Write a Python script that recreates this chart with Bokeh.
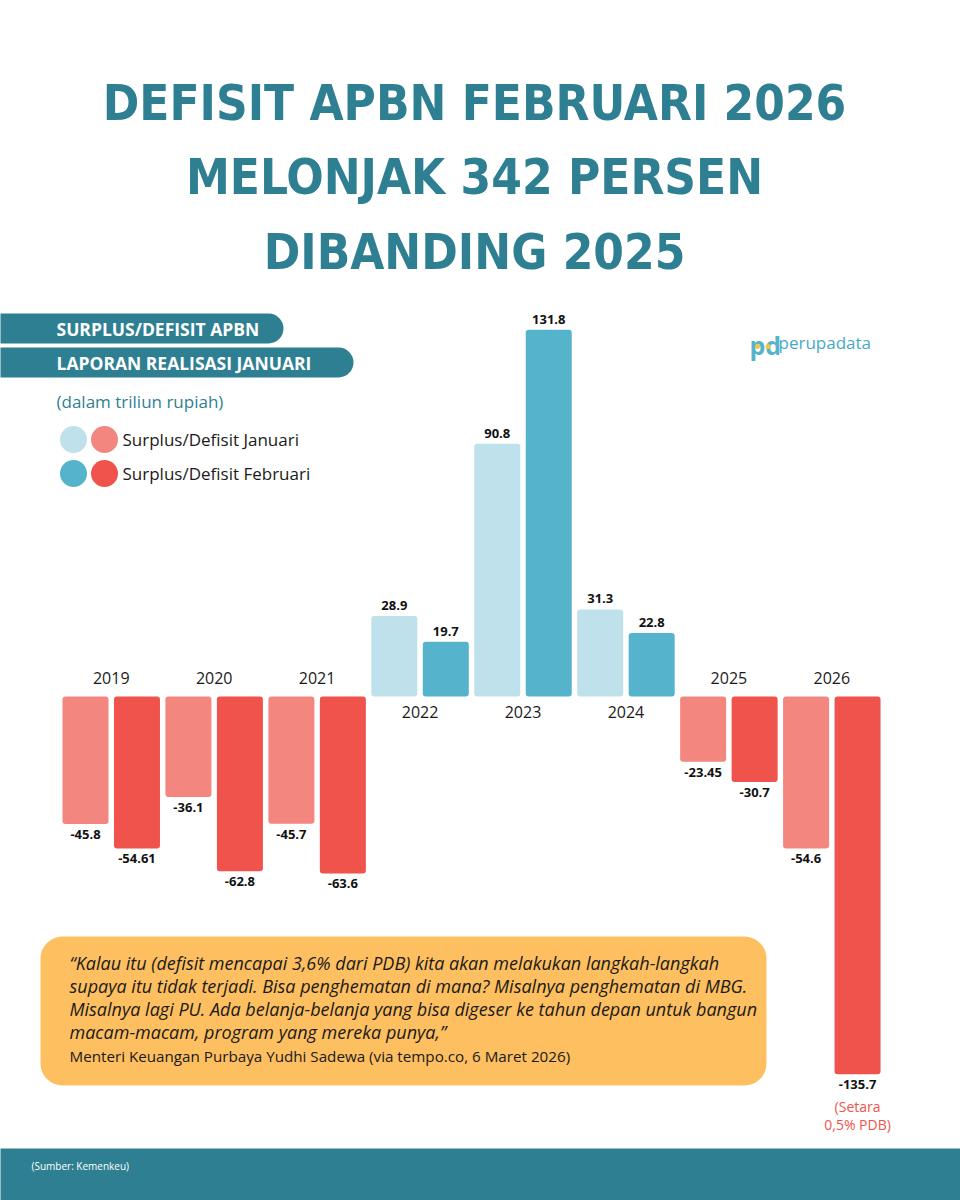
from bokeh.plotting import figure
from bokeh.models import Range1d, ColumnDataSource
from bokeh.core.properties import value
from bokeh.embed import file_html
from bokeh.resources import INLINE

# ---------------- data ----------------
years = ["2019", "2020", "2021", "2022", "2023", "2024", "2025", "2026"]
januari = [-45.8, -36.1, -45.7, 28.9, 90.8, 31.3, -23.45, -54.6]
februari = [-54.61, -62.8, -63.6, 19.7, 131.8, 22.8, -30.7, -135.7]

title_lines = ["DEFISIT APBN FEBRUARI 2026", "MELONJAK 342 PERSEN", "DIBANDING 2025"]
banner_1 = "SURPLUS/DEFISIT APBN"
banner_2 = "LAPORAN REALISASI JANUARI"
unit_text = "(dalam triliun rupiah)"
legend_labels = ["Surplus/Defisit Januari", "Surplus/Defisit Februari"]
note_2026 = ["(Setara", "0,5% PDB)"]
quote_lines = [
    "\u201cKalau itu (defisit mencapai 3,6% dari PDB) kita akan melakukan langkah-langkah",
    "supaya itu tidak terjadi. Bisa penghematan di mana? Misalnya penghematan di MBG.",
    "Misalnya lagi PU. Ada belanja-belanja yang bisa digeser ke tahun depan untuk bangun",
    "macam-macam, program yang mereka punya,\u201d",
]
quote_source = "Menteri Keuangan Purbaya Yudhi Sadewa (via tempo.co, 6 Maret 2026)"
source_text = "(Sumber: Kemenkeu)"
logo_text = "perupadata"

# ---------------- style ----------------
C_JAN_POS = "#BFE1EB"
C_FEB_POS = "#55B3CC"
C_JAN_NEG = "#F3877F"
C_FEB_NEG = "#F0534B"
TEAL = "#2E7F92"
QUOTE_BG = "#FDBF60"
TXT = "#1A1A1A"
FONT = value("Open Sans")

# layout helpers: reference pixel -> data coordinates
PXX = 51.47   # px per category slot
PXY = 2.783   # px per trillion
def X(px):
    return (px - 85.0) / PXX
def Y(py):
    return (696.0 - py) / PXY

p = figure(width=960, height=1200,
           x_range=Range1d(X(0), X(960)), y_range=Range1d(Y(1200), Y(0)),
           x_axis_type=None, y_axis_type=None,
           toolbar_location=None, output_backend="svg", min_border=0)
p.outline_line_color = None
p.background_fill_color = "white"
p.border_fill_color = "white"
p.xgrid.visible = False
p.ygrid.visible = False

# ---------------- title ----------------
p.text(x=[X(474)] * 3, y=[Y(103), Y(177), Y(252)], text=title_lines,
       text_align="center", text_baseline="middle",
       text_font=value("DejaVu Sans Condensed, Roboto, sans-serif"),
       text_font_style="bold", text_font_size="49px", text_color=TEAL)

# ---------------- banners ----------------
p.quad(left=[X(-40), X(-40)], right=[X(283), X(353)],
       top=[Y(313), Y(347)], bottom=[Y(343), Y(377)],
       fill_color=TEAL, line_color=None, border_radius=15)
p.text(x=[X(56), X(56)], y=[Y(328.5), Y(362.5)], text=[banner_1, banner_2],
       text_align="left", text_baseline="middle", text_font=FONT,
       text_font_style="bold", text_font_size="17.5px", text_color="white")
p.text(x=[X(56)], y=[Y(401)], text=[unit_text], text_align="left",
       text_baseline="middle", text_font=FONT, text_font_size="17px",
       text_color=TEAL)

# legend swatches
p.scatter(x=[X(73), X(104), X(73), X(104)], y=[Y(439), Y(439), Y(473), Y(473)],
          size=27, marker="circle", line_color=None,
          fill_color=[C_JAN_POS, C_JAN_NEG, C_FEB_POS, C_FEB_NEG])
p.text(x=[X(122), X(122)], y=[Y(439), Y(473)], text=legend_labels,
       text_align="left", text_baseline="middle", text_font=FONT,
       text_font_size="17px", text_color=TXT)

# logo
p.text(x=[X(749)], y=[Y(344)], text=["pd"], text_align="left",
       text_baseline="middle", text_font=FONT, text_font_style="bold",
       text_font_size="25px", text_color=C_FEB_POS)
p.scatter(x=[X(757), X(767.5)], y=[Y(346), Y(346)], size=5, marker="circle",
          line_color=None, fill_color="#F6C343")
p.text(x=[X(778)], y=[Y(342)], text=[logo_text], text_align="left",
       text_baseline="middle", text_font=FONT, text_font_size="17px",
       text_color="#45AAC6")

# ---------------- quote box ----------------
p.quad(left=[X(40)], right=[X(766)], top=[Y(936)], bottom=[Y(1085)],
       fill_color=QUOTE_BG, line_color=None, border_radius=22)
p.text(x=[X(69)] * 4, y=[Y(962), Y(985), Y(1008), Y(1031)], text=quote_lines,
       text_align="left", text_baseline="middle", text_font=FONT,
       text_font_style="italic", text_font_size="18px", text_color=TXT)
p.text(x=[X(69)], y=[Y(1055)], text=[quote_source], text_align="left",
       text_baseline="middle", text_font=FONT, text_font_size="15.2px",
       text_color=TXT)

# ---------------- bars ----------------
xs, tops, colors, labels, loffs = [], [], [], [], []
for k in range(len(years)):
    for j, (vals, cpos, cneg) in enumerate(((januari, C_JAN_POS, C_JAN_NEG),
                                            (februari, C_FEB_POS, C_FEB_NEG))):
        v = vals[k]
        xs.append(2 * k + j)
        tops.append(v)
        colors.append(cpos if v >= 0 else cneg)
        labels.append(f"{v:g}")
        loffs.append(-10.5 if v >= 0 else 10.5)
src = ColumnDataSource(dict(x=xs, top=tops, color=colors, label=labels, loff=loffs))
p.vbar(x="x", top="top", bottom=0, width=0.894, fill_color="color",
       line_color=None, border_radius=3, source=src)
p.text(x="x", y="top", text="label", y_offset="loff", text_align="center",
       text_baseline="middle", text_font=FONT, text_font_style="bold",
       text_font_size="13px", text_color="#111111", source=src)

# year labels
yx = [2 * k + 0.5 for k in range(len(years))]
yoff = [15 if (januari[k] + februari[k]) > 0 else -18.5 for k in range(len(years))]
ysrc = ColumnDataSource(dict(x=yx, y=[0] * len(years), text=years, off=yoff))
p.text(x="x", y="y", text="text", y_offset="off", text_align="center",
       text_baseline="middle", text_font=FONT, text_font_size="16px",
       text_color=TXT, source=ysrc)

# note under 2026
p.text(x=[15, 15], y=[februari[-1], februari[-1]], text=note_2026,
       y_offset=[32, 50], text_align="center", text_baseline="middle",
       text_font=FONT, text_font_size="14px", text_color=C_FEB_NEG)

# ---------------- footer ----------------
p.quad(left=[X(-40)], right=[X(1000)], top=[Y(1148)], bottom=[Y(1260)],
       fill_color=TEAL, line_color=None)
p.text(x=[X(31)], y=[Y(1165)], text=[source_text], text_align="left",
       text_baseline="middle", text_font=FONT, text_font_size="10px",
       text_color="white")

open("out.html", "w").write(file_html(p, INLINE))
